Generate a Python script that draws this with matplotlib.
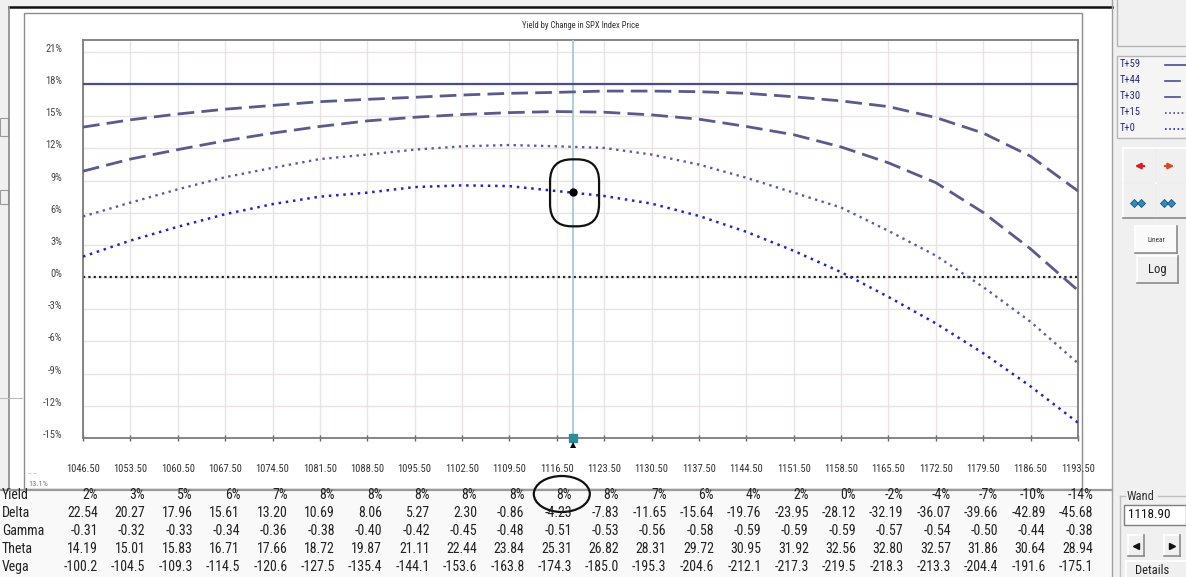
import matplotlib
matplotlib.use("Agg")
import matplotlib.pyplot as plt
from matplotlib import font_manager
from matplotlib.font_manager import FontProperties
from matplotlib.patches import Rectangle, Ellipse, FancyBboxPatch, Polygon
import matplotlib.transforms as mtransforms

# ---------------- data ----------------
price_ticks = [1046.50, 1053.50, 1060.50, 1067.50, 1074.50, 1081.50, 1088.50,
               1095.50, 1102.50, 1109.50, 1116.50, 1123.50, 1130.50, 1137.50,
               1144.50, 1151.50, 1158.50, 1165.50, 1172.50, 1179.50, 1186.50,
               1193.50]
yield_ticks = [21, 18, 15, 12, 9, 6, 3, 0, -3, -6, -9, -12, -15]

series_labels = ["T+59", "T+44", "T+30", "T+15", "T+0"]
t59 = [18.0, 18.0, 18.0, 18.0, 18.0, 18.0, 18.0, 18.0, 18.0, 18.0, 18.0,
       18.0, 18.0, 18.0, 18.0, 18.0, 18.0, 18.0, 18.0, 18.0, 18.0, 18.0]
t44 = [13.98, 14.66, 15.20, 15.65, 16.00, 16.35, 16.57, 16.76, 16.97, 17.13,
       17.22, 17.34, 17.34, 17.28, 17.13, 16.81, 16.42, 15.89, 14.87, 13.42,
       11.26, 8.02]
t30 = [9.87, 11.00, 11.88, 12.71, 13.42, 14.04, 14.56, 14.90, 15.15, 15.33,
       15.43, 15.37, 15.12, 14.72, 14.04, 13.27, 12.13, 10.65, 8.80, 6.02,
       2.62, -1.24]
t15 = [5.65, 6.94, 8.18, 9.31, 10.18, 11.00, 11.42, 11.88, 12.19, 12.31,
       12.19, 12.04, 11.42, 10.49, 9.26, 7.87, 6.48, 4.31, 2.00, -0.93,
       -4.17, -8.03]
t0 = [1.91, 3.40, 4.69, 5.86, 6.80, 7.50, 7.87, 8.39, 8.55, 8.48, 8.02,
      7.56, 6.85, 5.70, 4.22, 2.45, 0.46, -1.85, -4.32, -7.10, -10.19, -13.58]

wand_price = 1118.90
wand_yield = 7.90

row_names = ["Yield", "Delta", "Gamma", "Theta", "Vega"]
yield_row = ["2%", "3%", "5%", "6%", "7%", "8%", "8%", "8%", "8%", "8%", "8%",
             "8%", "7%", "6%", "4%", "2%", "0%", "-2%", "-4%", "-7%", "-10%",
             "-14%"]
delta_row = [22.54, 20.27, 17.96, 15.61, 13.20, 10.69, 8.06, 5.27, 2.30, -0.86,
             -4.23, -7.83, -11.65, -15.64, -19.76, -23.95, -28.12, -32.19,
             -36.07, -39.66, -42.89, -45.68]
gamma_row = [-0.31, -0.32, -0.33, -0.34, -0.36, -0.38, -0.40, -0.42, -0.45,
             -0.48, -0.51, -0.53, -0.56, -0.58, -0.59, -0.59, -0.59, -0.57,
             -0.54, -0.50, -0.44, -0.38]
theta_row = [14.19, 15.01, 15.83, 16.71, 17.66, 18.72, 19.87, 21.11, 22.44,
             23.84, 25.31, 26.82, 28.31, 29.72, 30.95, 31.92, 32.56, 32.80,
             32.57, 31.86, 30.64, 28.94]
vega_row = [-100.2, -104.5, -109.3, -114.5, -120.6, -127.5, -135.4, -144.1,
            -153.6, -163.8, -174.3, -185.0, -195.3, -204.6, -212.1, -217.3,
            -219.5, -218.3, -213.3, -204.4, -191.6, -175.1]

title_text = "Yield by Change in SPX Index Price"


# ---------------- fonts ----------------
def pick(*names):
    for n in names:
        try:
            font_manager.findfont(FontProperties(family=n), fallback_to_default=False)
            return n
        except Exception:
            pass
    return "DejaVu Sans"


NARROW = pick("Liberation Sans Narrow", "DejaVu Sans Condensed", "Roboto Condensed",
              "Liberation Sans")
plt.rcParams["font.family"] = [NARROW, "DejaVu Sans"]

# ---------------- figure ----------------
W, H = 1186, 577
fig = plt.figure(figsize=(W / 100, H / 100), dpi=100, facecolor="#f0f0f0")

bg = fig.add_axes([0, 0, 1, 1], zorder=0)
bg.set_xlim(0, W)
bg.set_ylim(H, 0)
bg.axis("off")

L, R, T, B = 83, 1078, 40, 438
ax = fig.add_axes([L / W, 1 - B / H, (R - L) / W, (B - T) / H], zorder=2)

top = fig.add_axes([0, 0, 1, 1], zorder=5)
top.set_xlim(0, W)
top.set_ylim(H, 0)
top.axis("off")
top.patch.set_alpha(0)

# ---- background window chrome ----
bg.add_patch(Rectangle((9, 7), 1103, 483, fc="white", ec="none"))
bg.add_patch(Rectangle((0, 490), 1112, 90, fc="#f9f9f9", ec="none"))
bg.plot([9, 1112], [7, 7], color="#111111", lw=1.8)
bg.plot([9, 9], [7, 490], color="#888888", lw=1.2)
bg.add_patch(Rectangle((24, 13), 1058, 476, fill=False, ec="#8c8c8c", lw=1.0))
bg.plot([0, 1112], [490, 490], color="#9a9a9a", lw=1.6)
bg.plot([1112, 1112], [0, 577], color="#a0a0a0", lw=1.0)
# left strip widgets
bg.add_patch(Rectangle((0, 118), 8, 18, fill=False, ec="#9a9a9a", lw=0.8))
bg.add_patch(Rectangle((0, 190), 8, 14, fill=False, ec="#9a9a9a", lw=0.8))
bg.plot([0, 22], [398, 398], color="#bbbbbb", lw=0.8)
bg.text(28, 487, "13.1%", fontsize=6, color="#777777", va="bottom", ha="left")
bg.text(28, 478, "-- --", fontsize=5, color="#999999", va="bottom", ha="left")

ax.annotate(title_text, xy=(0.5, 1.0), xycoords="axes fraction",
            xytext=(0, 14), textcoords="offset pixels", ha="center", va="center",
            fontsize=6.2, color="#333333")

# ---------------- main chart ----------------
ax.plot(price_ticks, t59, color="#4c4c8a", lw=1.6, ls="-", zorder=3)
ax.plot(price_ticks, t44, color="#5a5a8c", lw=2.0, ls=(0, (6, 2.6)), zorder=3)
ax.plot(price_ticks, t30, color="#5a5a8c", lw=2.0, ls=(0, (6, 2.6)), zorder=3)
ax.plot(price_ticks, t15, color="#5a5aa0", lw=1.7, ls=(0, (1, 1.9)), zorder=3)
ax.plot(price_ticks, t0, color="#2626b0", lw=1.8, ls=(0, (1, 1.9)), zorder=3)
ax.axhline(0, color="#222222", lw=1.6, ls=(0, (1, 1.4)), zorder=2.5)

ax.axvline(wand_price, color="#a9c9db", lw=1.3, zorder=2.6)
ax.plot([wand_price], [wand_yield], "o", color="black", ms=5, zorder=4)
ax.plot([wand_price], [-15], "s", color="#2f8b9c", ms=5.5, zorder=5, clip_on=False)

ax.set_xlim(1046.5, 1193.5)
ax.set_ylim(-15, 22.1)
ax.set_xticks(price_ticks)
ax.set_xticklabels(["%.2f" % p for p in price_ticks])
ax.set_yticks(yield_ticks)
ax.set_yticklabels(["%d%%" % v for v in yield_ticks])
ax.grid(True, color="#e9e3e3", lw=1.0, zorder=0)
ax.set_axisbelow(True)
for s in ax.spines.values():
    s.set_color("#7c7c7c")
    s.set_linewidth(1.3)
ax.tick_params(axis="x", direction="inout", length=5, width=1, color="#666666",
               labelsize=7.6, labelcolor="#333333", pad=16)
ax.tick_params(axis="y", length=0, labelsize=7.6, labelcolor="#444444", pad=15)
shift = mtransforms.ScaledTranslation(0, 0.04, fig.dpi_scale_trans)
for lab in ax.get_yticklabels():
    lab.set_transform(lab.get_transform() + shift)

# black arrow under cursor marker
inv = top.transData.inverted()
cx, cy = inv.transform(ax.transData.transform((wand_price, -15)))
top.add_patch(Polygon([[cx - 3, cy + 10], [cx + 3, cy + 10], [cx, cy + 4]],
                      closed=True, fc="black", ec="none"))

# hand-drawn loop around the wand point
px, py = inv.transform(ax.transData.transform((wand_price, wand_yield)))
top.add_patch(FancyBboxPatch((px - 23, py - 33), 49, 67,
                             boxstyle="round,pad=0,rounding_size=22",
                             fill=False, ec="#111111", lw=1.6))

# ---------------- table ----------------
row_y = [495, 513, 531, 549, 567]
rows = [yield_row,
        ["%.2f" % v for v in delta_row],
        ["%.2f" % v for v in gamma_row],
        ["%.2f" % v for v in theta_row],
        ["%.1f" % v for v in vega_row]]
blend = mtransforms.blended_transform_factory(ax.transData, top.transData)
col_tr = mtransforms.offset_copy(blend, fig=fig, x=15, y=0, units="dots")
for name, yy, vals in zip(row_names, row_y, rows):
    top.text(2, yy, name, fontsize=10, color="#222222", ha="left", va="center")
    for p, v in zip(price_ticks, vals):
        top.text(p, yy, v, transform=col_tr, fontsize=10, color="#222222",
                 ha="right", va="center")

# circle around the wand column yield
ex = inv.transform(ax.transData.transform((price_ticks[10], 0)))[0]
top.add_patch(Ellipse((ex + 5, 494), 56, 36, fill=False, ec="#111111", lw=1.6))

# ---------------- right panel ----------------
bg.add_patch(Rectangle((1113, 0), 73, 577, fc="#f0f0f0", ec="none"))
bg.add_patch(Rectangle((1117, -5), 75, 51, fill=False, ec="#b5b5b5", lw=1.0))
bg.add_patch(Rectangle((1117, 56), 75, 82, fc="#f5f5f5", ec="#b5b5b5", lw=1.0))
leg_y = [64, 80, 96, 112, 128]
leg_styles = [dict(ls="-", lw=1.2, color="#4c4c8a"),
              dict(ls="-", lw=1.2, color="#4c4c8a"),
              dict(ls="-", lw=1.2, color="#4c4c8a"),
              dict(ls=(0, (1, 1.5)), lw=1.2, color="#4c4c8a"),
              dict(ls=(0, (1, 1.5)), lw=1.2, color="#2626b0")]
leg_x2 = [1186, 1180, 1180, 1186, 1186]
for lab, yy, st, x2 in zip(series_labels, leg_y, leg_styles, leg_x2):
    bg.text(1120, yy, lab, fontsize=7.6, color="#2a2a86", ha="left", va="center")
    bg.plot([1165, x2], [yy + 1, yy + 1], **st)


def button(x, y, w, h, face="#f0f0f0"):
    bg.add_patch(Rectangle((x, y), w, h, fc=face, ec="none"))
    bg.plot([x, x + w], [y, y], color="white", lw=1.2)
    bg.plot([x, x], [y, y + h], color="white", lw=1.2)
    bg.plot([x, x + w], [y + h, y + h], color="#8a8a8a", lw=1.2)
    bg.plot([x + w, x + w], [y, y + h], color="#8a8a8a", lw=1.2)


button(1123, 148, 33, 35)
button(1156, 148, 33, 35)
button(1123, 183, 33, 35)
button(1156, 183, 33, 35)
bg.annotate("", xy=(1132, 166), xytext=(1147, 166),
            arrowprops=dict(arrowstyle="-|>", color="#d42020", lw=1.6,
                            mutation_scale=8))
bg.annotate("", xy=(1177, 166), xytext=(1162, 166),
            arrowprops=dict(arrowstyle="-|>", color="#d84a2a", lw=1.6,
                            mutation_scale=8))
for dx in (1134, 1141, 1164, 1171):
    bg.plot([dx], [203], marker="D", ms=4.2, color="#2a8fb8", mec="#1c4f80", mew=0.6)

button(1135, 226, 42, 27, face="#fafafa")
bg.text(1156, 240, "Linear", fontsize=5.2, color="#333333", ha="center", va="center")
button(1137, 256, 41, 27)
bg.text(1157, 270, "Log", fontsize=9, color="#222222", ha="center", va="center")

# wand group
bg.plot([1120, 1120], [496, 577], color="#c0c0c0", lw=1.0)
bg.plot([1120, 1125], [496, 496], color="#c0c0c0", lw=1.0)
bg.plot([1158, 1186], [496, 496], color="#c0c0c0", lw=1.0)
bg.text(1127, 496, "Wand", fontsize=9, color="#333333", ha="left", va="center")
bg.add_patch(Rectangle((1124, 505), 62, 20, fc="white", ec="#7f7f7f", lw=1.0))
bg.text(1128, 515, "%.2f" % wand_price, fontsize=9.5, color="#111111", ha="left",
        va="center")
button(1128, 535, 16, 21)
button(1164, 535, 16, 21)
bg.plot([1136], [546], marker="<", ms=4, color="#111111")
bg.plot([1172], [546], marker=">", ms=4, color="#111111")
button(1126, 561, 62, 21)
bg.text(1135, 571, "Details", fontsize=9, color="#222222", ha="left", va="center")

fig.savefig("out.png", dpi=100, facecolor=fig.get_facecolor())
